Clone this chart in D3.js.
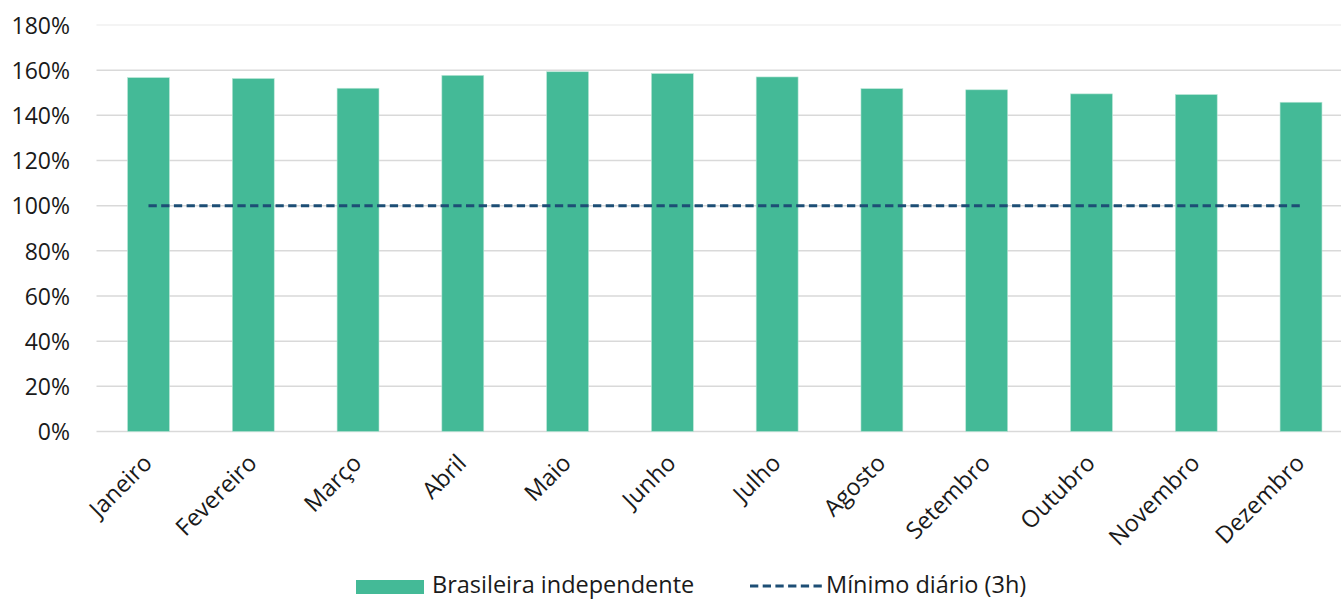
<!DOCTYPE html>
<html>
<head>
<meta charset="utf-8">
<script src="https://cdn.jsdelivr.net/npm/d3@7"></script>
<style>
  html, body { margin: 0; padding: 0; background: #fff; }
  svg { display: block; font-family: "Open Sans", sans-serif; }
</style>
</head>
<body>
<svg id="chart" width="1341" height="599"></svg>
<script>
const months = ["Janeiro","Fevereiro","Março","Abril","Maio","Junho","Julho","Agosto","Setembro","Outubro","Novembro","Dezembro"];
const barValues = [156.7,156.3,152.0,157.7,159.3,158.5,157.0,151.8,151.3,149.5,149.2,145.8];
const minValues = [100,100,100,100,100,100,100,100,100,100,100,100];
const yTicks = [0,20,40,60,80,100,120,140,160,180];
const seriesNames = ["Brasileira independente","Mínimo diário (3h)"];

const svg = d3.select("#chart");
const x = d3.scaleBand().domain(months).range([96.1, 1353.4]).paddingInner(0.6).paddingOuter(0.3);
const y = d3.scaleLinear().domain([0, 180]).range([431.5, 25]);

// gridlines
svg.append("g").selectAll("line").data(yTicks).join("line")
  .attr("x1", 96.5).attr("x2", 1353.4)
  .attr("y1", d => y(d)).attr("y2", d => y(d))
  .attr("stroke", d => d === 180 ? "#f0f0f0" : "#d9d9d9")
  .attr("stroke-width", 1.5);

// y axis labels
const yAxis = d3.axisLeft(y).tickValues(yTicks).tickFormat(d => d + "%").tickSize(0).tickPadding(0);
const yg = svg.append("g").attr("transform", "translate(70,0)").call(yAxis);
yg.select(".domain").remove();
yg.selectAll("text").attr("font-size", 23).attr("fill", "#1a1a1a")
  .attr("font-family", "'Open Sans', sans-serif").attr("dy", "0.36em");

// bars
svg.append("g").selectAll("rect").data(months).join("rect")
  .attr("x", d => x(d))
  .attr("width", x.bandwidth())
  .attr("y", (d, i) => y(barValues[i]))
  .attr("height", (d, i) => y(0) - y(barValues[i]))
  .attr("fill", "#44ba97")
  .attr("stroke", "#b9e6d6").attr("stroke-width", 0.6);

// dashed line
const line = d3.line().x((d, i) => x(months[i]) + x.bandwidth() / 2).y(d => y(d));
svg.append("path").datum(minValues)
  .attr("d", line)
  .attr("fill", "none")
  .attr("stroke", "#1d4e75")
  .attr("stroke-width", 3)
  .attr("stroke-dasharray", "8.3,4.4");

// x axis labels
const xAxis = d3.axisBottom(x).tickSize(0).tickPadding(0);
const xg = svg.append("g").attr("transform", "translate(0,431.5)").call(xAxis);
xg.select(".domain").remove();
xg.selectAll(".tick text")
  .attr("font-size", 23.5).attr("fill", "#1a1a1a")
  .attr("font-family", "'Open Sans', sans-serif")
  .attr("text-anchor", "end")
  .attr("dy", 0).attr("y", 0)
  .attr("transform", "translate(5,33) rotate(-45)");

// legend
const lg = svg.append("g");
lg.append("rect").attr("x", 356).attr("y", 580).attr("width", 68).attr("height", 14).attr("fill", "#44ba97");
lg.append("text").attr("x", 432).attr("y", 592.5).attr("font-size", 23.5).attr("fill", "#1a1a1a").text(seriesNames[0]);
lg.append("line").attr("x1", 750).attr("x2", 822).attr("y1", 586).attr("y2", 586)
  .attr("stroke", "#1d4e75").attr("stroke-width", 3).attr("stroke-dasharray", "8.3,4.4");
lg.append("text").attr("x", 826).attr("y", 592.5).attr("font-size", 23.5).attr("fill", "#1a1a1a").text(seriesNames[1]);
</script>
</body>
</html>
